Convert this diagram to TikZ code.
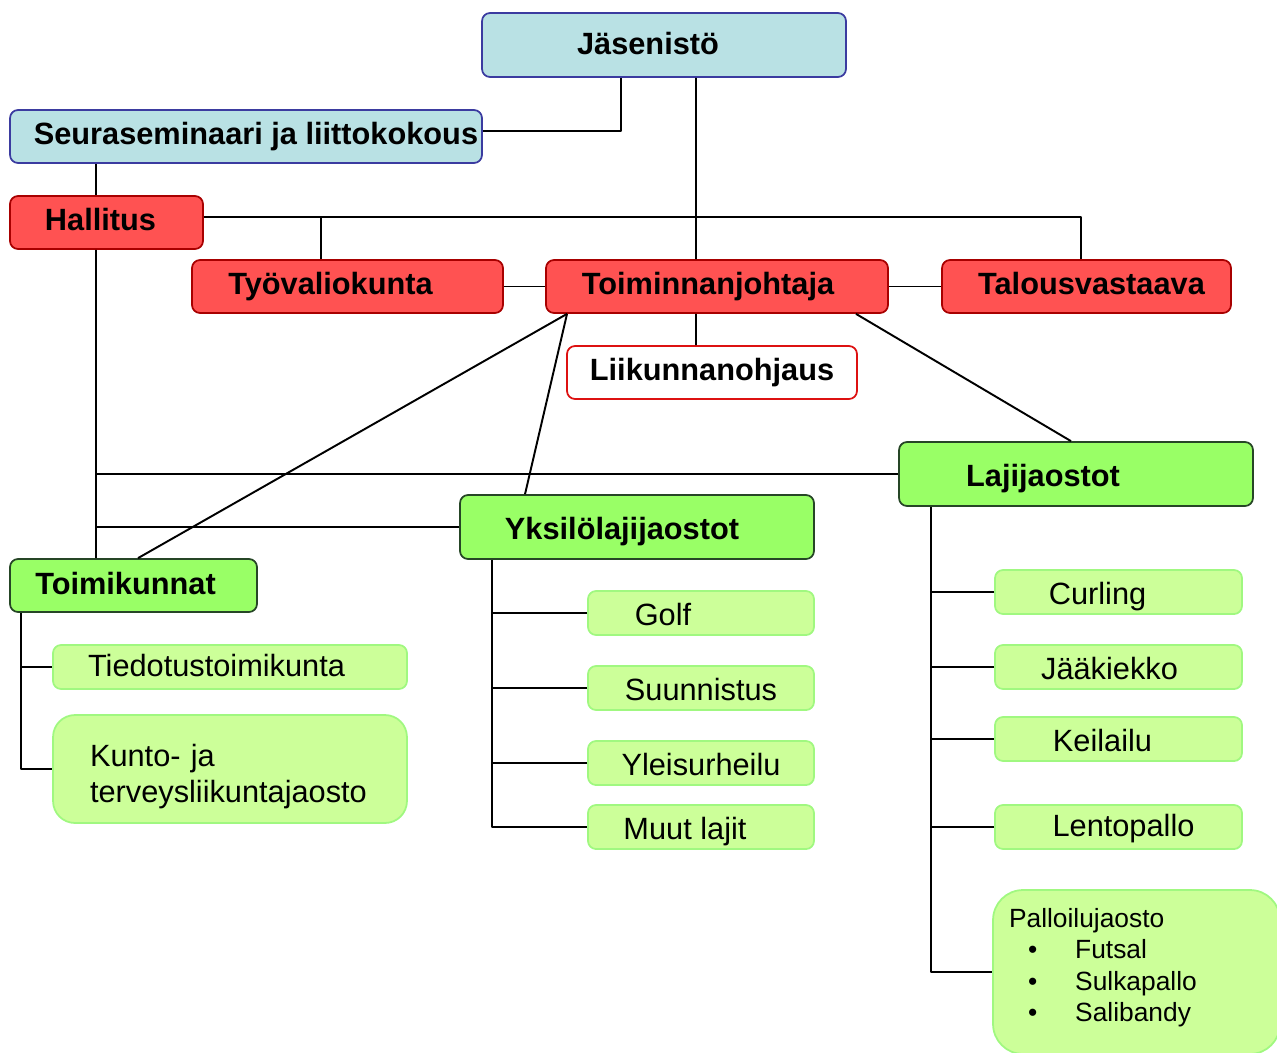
\documentclass[tikz,border=0pt]{standalone}
\usepackage{fontspec}
\setmainfont{Liberation Sans}

\definecolor{jasfill}{HTML}{B9E1E4}
\definecolor{jasline}{HTML}{3B3BA0}
\definecolor{redfill}{HTML}{FF5252}
\definecolor{redline}{HTML}{A80000}
\definecolor{liikline}{HTML}{DD1111}
\definecolor{grfill}{HTML}{99FF66}
\definecolor{grline}{HTML}{264626}
\definecolor{ltfill}{HTML}{CCFF99}
\definecolor{ltline}{HTML}{A0F880}

\tikzset{
    box/.style={draw, rounded corners=0.16cm, line width=1pt, minimum height=1.06cm, inner xsep=1pt,
        text height=12.8pt, text depth=3.7pt, font=\fontsize{17.5}{20.5}\selectfont\bfseries},
    bluebox/.style={box, fill=jasfill, draw=jasline},
    redbox/.style={box, fill=redfill, draw=redline},
    liikbox/.style={box, fill=white, draw=liikline},
    greenbox/.style={box, fill=grfill, draw=grline},
    sportbox/.style={box, fill=ltfill, draw=ltline, minimum height=0.88cm, inner ysep=1pt, text height=17.5pt,
        font=\fontsize{17.5}{20.5}\selectfont},
    tx/.style={execute at begin node={\kern#1}},
    conn/.style={line width=1.1pt},
}

\begin{document}
\begin{tikzpicture}[x=0.02cm, y=-0.02cm, line join=round]
    \useasboundingbox (0,0) rectangle (1277,1052);
    \clip (0,0) rectangle (1277,1052);

    \node[bluebox, minimum width=7.28cm, minimum height=1.28cm, tx=-0.64cm, text height=15pt] (jas) at (664,45) {Jäsenistö};
    \node[bluebox, minimum width=9.44cm, tx=0.4cm] (seura) at (246,136.5) {Seuraseminaari ja liittokokous};
    \node[redbox, minimum width=3.86cm, tx=-0.24cm] (hall) at (106.5,222.5) {Hallitus};
    \node[redbox, minimum width=6.22cm, tx=-0.68cm] (tyo) at (347.5,286.5) {Työvaliokunta};
    \node[redbox, minimum width=6.84cm, tx=-0.36cm] (toim) at (717,286.5) {Toiminnanjohtaja};
    \node[redbox, minimum width=5.78cm, tx=0.2cm] (talous) at (1086.5,286.5) {Talousvastaava};
    \node[liikbox, minimum width=5.8cm] (liik) at (712,372.5) {Liikunnanohjaus};
    \node[greenbox, minimum width=7.08cm, minimum height=1.28cm, tx=-1.32cm, text height=18pt] (laji) at (1076,474) {Lajijaostot};
    \node[greenbox, minimum width=7.08cm, minimum height=1.28cm, tx=-0.6cm, text height=18pt] (yksi) at (637,527) {Yksilölajijaostot};
    \node[greenbox, minimum width=4.94cm, tx=-0.32cm, text height=14pt] (toimik) at (133.5,585.5) {Toimikunnat};

    \node[sportbox, minimum width=7.08cm, tx=-0.54cm, text height=15pt] (tied) at (230,667) {Tiedotustoimikunta};
    \node[sportbox, minimum width=7.08cm, minimum height=2.16cm, rounded corners=0.44cm,
        text width=5.6cm, align=left, inner xsep=0pt, text height={}, text depth={}] (kunto) at (230,769)
        {\rule{0pt}{21pt}Kunto- ja\\terveysliikuntajaosto};

    \node[sportbox, minimum width=4.52cm, tx=-1.52cm] (golf) at (701,613) {Golf};
    \node[sportbox, minimum width=4.52cm] (suun) at (701,688) {Suunnistus};
    \node[sportbox, minimum width=4.52cm] (yleis) at (701,763) {Yleisurheilu};
    \node[sportbox, minimum width=4.52cm, tx=-0.64cm] (muut) at (701,827) {Muut lajit};

    \node[sportbox, minimum width=4.94cm, tx=-0.84cm] (curl) at (1118.5,592) {Curling};
    \node[sportbox, minimum width=4.94cm, tx=-0.36cm] (jaak) at (1118.5,667) {Jääkiekko};
    \node[sportbox, minimum width=4.94cm, tx=-0.64cm] (keil) at (1118.5,739) {Keilailu};
    \node[sportbox, minimum width=4.94cm, tx=0.2cm, text height=15pt] (lento) at (1118.5,827) {Lentopallo};
    \node[sportbox, minimum width=5.74cm, minimum height=3.28cm, rounded corners=0.6cm,
        text width=5.1cm, align=left, inner xsep=0.32cm, text height={}, text depth={},
        font=\fontsize{15}{18}\selectfont] (pallo) at (1136.5,972)
        {Palloilujaosto\\
         \hspace*{0.38cm}\textbullet\hspace{0.76cm}Futsal\\
         \hspace*{0.38cm}\textbullet\hspace{0.76cm}Sulkapallo\\
         \hspace*{0.38cm}\textbullet\hspace{0.76cm}Salibandy\rule[-8pt]{0pt}{8pt}};

    \coordinate (hb) at ([xshift=-0.21cm]hall.south);
    \coordinate (tb) at ([xshift=-2.25cm]toimik.south);
    \coordinate (yb) at ([xshift=-2.9cm]yksi.south);
    \coordinate (lb) at ([xshift=-2.9cm]laji.south);

    \draw[conn] ([xshift=-0.86cm]jas.south) |- ([yshift=0.11cm]seura.east);
    \draw[conn] ([xshift=0.64cm]jas.south) -- ([xshift=-0.42cm]toim.north);
    \draw[conn] ([xshift=-0.21cm]hall.north) -- ([xshift=-0.21cm]hall.north |- seura.south);
    \draw[conn] ([yshift=0.11cm]hall.east) -| ([xshift=-0.11cm]talous.north);
    \draw[conn] ([xshift=-0.53cm]tyo.north) -- ([xshift=-0.53cm,yshift=0.11cm]tyo.north |- hall.east);
    \draw[conn] (tyo.east) -- (toim.west);
    \draw[conn] (toim.east) -- (talous.west);
    \draw[conn] ([xshift=-0.42cm]toim.south) -- ([xshift=-0.32cm]liik.north);
    \draw[conn] ([xshift=-3cm]toim.south) -- ([xshift=0.09cm]toimik.north);
    \draw[conn] ([xshift=-3cm]toim.south) -- ([xshift=-2.24cm]yksi.north);
    \draw[conn] ([xshift=2.78cm]toim.south) -- ([xshift=-0.1cm]laji.north);
    \draw[conn] (hb) -- ([xshift=-0.75cm]toimik.north);
    \draw[conn] (laji.west) -- (laji.west -| hb);
    \draw[conn] (yksi.west) -- (yksi.west -| hb);

    \draw[conn] (tb) |- (kunto.west);
    \draw[conn] (tied.west) -- (tied.west -| tb);
    \draw[conn] (yb) |- (muut.west);
    \foreach \n in {golf,suun,yleis}{%
        \draw[conn] (\n.west) -- (\n.west -| yb);
    }%
    \draw[conn] (lb) |- (pallo.west);
    \foreach \n in {curl,jaak,keil,lento}{%
        \draw[conn] (\n.west) -- (\n.west -| lb);
    }%
\end{tikzpicture}
\end{document}
